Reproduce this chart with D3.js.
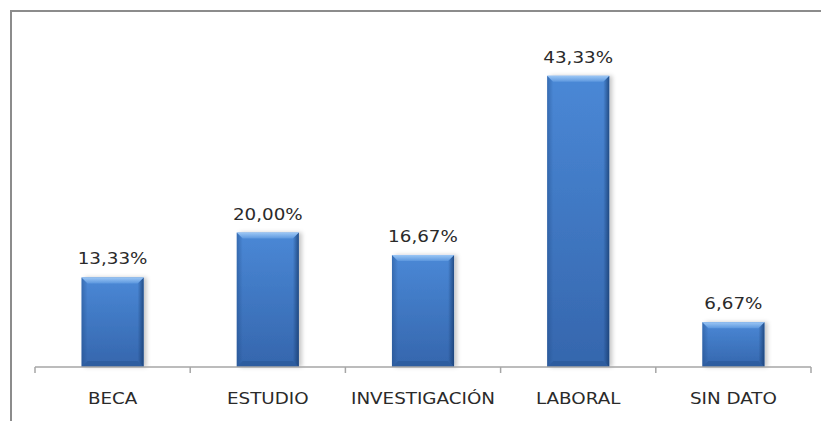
<!DOCTYPE html>
<html>
<head>
  <meta charset="utf-8">
  <script src="https://cdn.jsdelivr.net/npm/d3@7"></script>
  <style>
    body { margin: 0; background: #fff; }
    svg { display: block; }
    text { font-family: 'DejaVu Sans', sans-serif; fill: #2a2a2a; }
  </style>
</head>
<body>
<div id="chart"></div>
<script>
// chart data
var categories = ['BECA', 'ESTUDIO', 'INVESTIGACIÓN', 'LABORAL', 'SIN DATO'];
var values = [13.33, 20.00, 16.67, 43.33, 6.67];
var labels = ['13,33%', '20,00%', '16,67%', '43,33%', '6,67%'];

var W = 821, H = 421,
    m = { left: 35, right: 10, top: 31, bottom: 54 },
    bevel = 6,
    stretch = 1.11;

var svg = d3.select('#chart').append('svg')
    .attr('width', W)
    .attr('height', H);

var defs = svg.append('defs');

var bodyGrad = defs.append('linearGradient').attr('id', 'body')
    .attr('x1', 0).attr('y1', 0).attr('x2', 0).attr('y2', 1);
bodyGrad.append('stop').attr('offset', '0%').attr('stop-color', '#4a88d6');
bodyGrad.append('stop').attr('offset', '100%').attr('stop-color', '#3566ad');

var sideGrad = defs.append('linearGradient').attr('id', 'side')
    .attr('x1', 0).attr('y1', 0).attr('x2', 1).attr('y2', 0);
sideGrad.append('stop').attr('offset', '0%').attr('stop-color', '#1f4a85').attr('stop-opacity', 0.45);
sideGrad.append('stop').attr('offset', '100%').attr('stop-color', '#1f4a85').attr('stop-opacity', 0);

var sideRGrad = defs.append('linearGradient').attr('id', 'sideR')
    .attr('x1', 1).attr('y1', 0).attr('x2', 0).attr('y2', 0);
sideRGrad.append('stop').attr('offset', '0%').attr('stop-color', '#163a6c').attr('stop-opacity', 0.75);
sideRGrad.append('stop').attr('offset', '100%').attr('stop-color', '#163a6c').attr('stop-opacity', 0);

var topGrad = defs.append('linearGradient').attr('id', 'topb')
    .attr('x1', 0).attr('y1', 0).attr('x2', 0).attr('y2', 1);
topGrad.append('stop').attr('offset', '0%').attr('stop-color', '#9cc7f5');
topGrad.append('stop').attr('offset', '100%').attr('stop-color', '#5c97de');

var shadow = defs.append('filter').attr('id', 'shadow')
    .attr('x', '-20%').attr('y', '-10%').attr('width', '150%').attr('height', '120%');
shadow.append('feDropShadow').attr('dx', 3).attr('dy', 0).attr('stdDeviation', 2)
    .attr('flood-color', '#000').attr('flood-opacity', 0.22);

// outer chart border (clipped on right and bottom)
svg.append('path')
    .attr('d', 'M11,' + H + 'V11H' + W)
    .attr('fill', 'none')
    .attr('stroke', '#8c8c8c')
    .attr('stroke-width', 2);

var x = d3.scaleBand()
    .domain(categories)
    .range([m.left, W - m.right])
    .paddingInner(0)
    .paddingOuter(0);

var y = d3.scaleLinear()
    .domain([0, 50])
    .range([H - m.bottom, m.top]);

var bw = x.bandwidth() * 0.4;

var bars = svg.append('g').selectAll('g.bar')
    .data(values)
  .enter().append('g')
    .attr('class', 'bar')
    .attr('transform', function (d, i) {
      return 'translate(' + (x(categories[i]) + (x.bandwidth() - bw) / 2) + ',' + y(d) + ')';
    });

bars.append('rect')
    .attr('width', bw)
    .attr('height', function (d) { return y(0) - y(d); })
    .attr('fill', 'url(#body)')
    .attr('filter', 'url(#shadow)');

// left bevel
bars.append('path')
    .attr('d', function (d) {
      var h = y(0) - y(d);
      return 'M0,0L' + bevel + ',' + bevel + 'L' + bevel + ',' + (h - bevel) + 'L0,' + h + 'Z';
    })
    .attr('fill', 'url(#side)');

// right bevel
bars.append('path')
    .attr('d', function (d) {
      var h = y(0) - y(d);
      return 'M' + bw + ',0L' + (bw - bevel) + ',' + bevel + 'L' + (bw - bevel) + ',' + (h - bevel) + 'L' + bw + ',' + h + 'Z';
    })
    .attr('fill', 'url(#sideR)');

// bottom bevel
bars.append('path')
    .attr('d', function (d) {
      var h = y(0) - y(d);
      return 'M0,' + h + 'L' + bevel + ',' + (h - bevel) + 'L' + (bw - bevel) + ',' + (h - bevel) + 'L' + bw + ',' + h + 'Z';
    })
    .attr('fill', '#234f8e')
    .attr('fill-opacity', 0.45);

// top bevel
bars.append('path')
    .attr('d', 'M0,0L' + bw + ',0L' + (bw - bevel) + ',' + bevel + 'L' + bevel + ',' + bevel + 'Z')
    .attr('fill', 'url(#topb)');

// value labels
svg.append('g').selectAll('text')
    .data(values)
  .enter().append('text')
    .attr('transform', function (d, i) {
      return 'translate(' + (x(categories[i]) + x.bandwidth() / 2) + ',' + (y(d) - 13) + ') scale(' + stretch + ',1)';
    })
    .attr('text-anchor', 'middle')
    .style('font-size', '16.5px')
    .text(function (d, i) { return labels[i]; });

// x axis
var axis = svg.append('g')
    .attr('transform', 'translate(0,' + y(0) + ')');

axis.append('line')
    .attr('x1', m.left).attr('x2', W - m.right)
    .attr('stroke', '#a6a6a6').attr('stroke-width', 1.5);

var tickPos = categories.map(function (c) { return x(c); }).concat([W - m.right]);
axis.selectAll('line.tick')
    .data(tickPos)
  .enter().append('line')
    .attr('class', 'tick')
    .attr('x1', function (d) { return d; })
    .attr('x2', function (d) { return d; })
    .attr('y1', 0).attr('y2', 6)
    .attr('stroke', '#a6a6a6').attr('stroke-width', 1.5);

axis.selectAll('text')
    .data(categories)
  .enter().append('text')
    .attr('transform', function (d) {
      return 'translate(' + (x(d) + x.bandwidth() / 2) + ',37) scale(' + stretch + ',1)';
    })
    .attr('text-anchor', 'middle')
    .style('font-size', '16.5px')
    .text(function (d) { return d; });
</script>
</body>
</html>
